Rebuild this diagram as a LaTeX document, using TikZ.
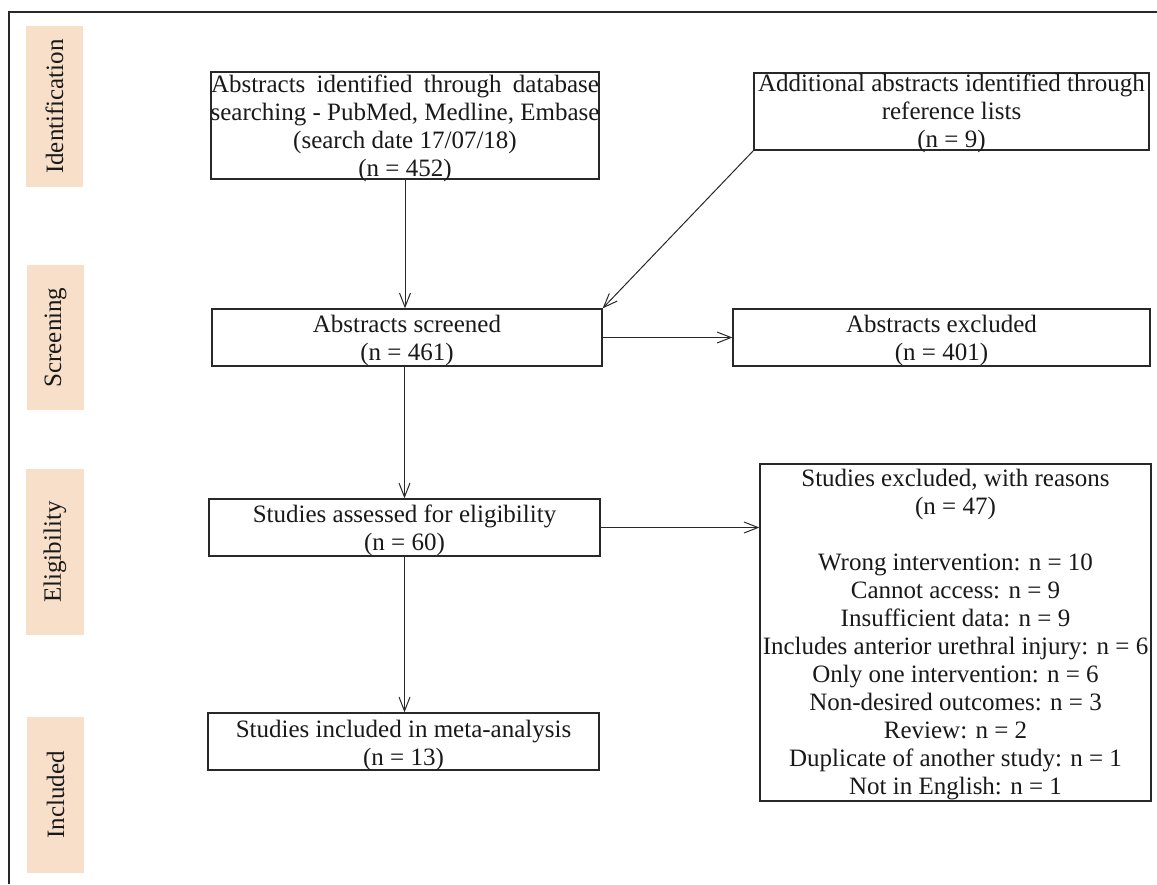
\documentclass[tikz,border=0pt]{standalone}
\usepackage{fontspec}
\setmainfont{Liberation Serif}
\usetikzlibrary{arrows.meta}
\definecolor{peach}{RGB}{247,223,202}
\definecolor{ink}{RGB}{40,40,40}
\definecolor{txtc}{RGB}{25,25,25}
\newcommand{\btxt}[2]{\parbox[t]{#1}{\centering #2}}
\begin{document}
\begin{tikzpicture}[x=1pt,y=-1pt,
  font=\fontsize{25}{28}\selectfont,
  boxst/.style={draw=ink, line width=1.3pt, inner sep=0pt, fill=white},
  side/.style={fill=peach, inner sep=0pt, text=txtc, rotate=90},
  txt/.style={anchor=base, inner sep=0pt, text=txtc},
  arr/.style={draw=ink, line width=1pt, -{Straight Barb[length=14pt,width=11pt,line width=1pt]}},
  frame/.style={draw=ink, line width=1.3pt}]
\useasboundingbox (0,0) rectangle (1157,884);
% frame
\coordinate (fr1) at (9,884);
\coordinate (fr2) at (9,12);
\coordinate (fr3) at (1157,12);
\draw[frame] (fr1) -- (fr2) -- (fr3);
% side labels
\node[side, minimum width=161pt, minimum height=57pt] (s1) at (54.5,106.5) {Identification};
\node[side, minimum width=145pt, minimum height=57pt] (s2) at (55.5,337.5) {Screening};
\node[side, minimum width=166pt, minimum height=58pt] (s3) at (55,552) {Eligibility};
\node[side, minimum width=156pt, minimum height=57pt] (s4) at (55.5,795) {Included};
% boxes
\node[boxst, minimum width=388pt, minimum height=107pt] (b1) at (405,125.5) {};
\node[boxst, minimum width=395pt, minimum height=77pt] (b2) at (951.5,111.5) {};
\node[boxst, minimum width=390pt, minimum height=57pt] (b3) at (407,337.5) {};
\node[boxst, minimum width=417pt, minimum height=57pt] (b4) at (941.5,337.5) {};
\node[boxst, minimum width=391pt, minimum height=57pt] (b5) at (404.5,527.5) {};
\node[boxst, minimum width=391pt, minimum height=337pt] (b6) at (955.5,632.5) {};
\node[boxst, minimum width=391pt, minimum height=57pt] (b7) at (403.5,741.5) {};
% texts
\node[txt] (t1) at (405,92) {\btxt{394pt}{\makebox[388pt][s]{Abstracts identified through database}\\searching - PubMed, Medline, Embase\\(search date 17/07/18)\\(n = 452)}};
\node[txt] (t2) at (951.5,91) {\btxt{395pt}{Additional abstracts identified through\\reference lists\\(n = 9)}};
\node[txt] (t3) at (407,332) {\btxt{390pt}{Abstracts screened\\(n = 461)}};
\node[txt] (t4) at (941.5,332) {\btxt{417pt}{Abstracts excluded\\(n = 401)}};
\node[txt] (t5) at (404.5,522) {\btxt{391pt}{Studies assessed for eligibility\\(n = 60)}};
\node[txt] (t6) at (955.5,486) {\btxt{395pt}{Studies excluded, with reasons\\(n = 47)\\[28pt]Wrong intervention: n = 10\\Cannot access: n = 9\\Insufficient data: n = 9\\Includes anterior urethral injury: n = 6\\Only one intervention: n = 6\\Non-desired outcomes: n = 3\\Review: n = 2\\Duplicate of another study: n = 1\\Not in English: n = 1}};
\node[txt] (t7) at (403.5,737) {\btxt{391pt}{Studies included in meta-analysis\\(n = 13)}};
% connectors
\draw[arr] (b1.south) -- (b1.south |- b3.north);
\draw[arr] (b2.south west) -- (b3.north east);
\draw[arr] (b3.east) -- (b4.west);
\draw[arr] (b3.south -| b5.north) -- (b5.north);
\draw[arr] (b5.east) -- (b5.east -| b6.west);
\draw[arr] (b5.south) -- (b5.south |- b7.north);
\end{tikzpicture}
\end{document}
